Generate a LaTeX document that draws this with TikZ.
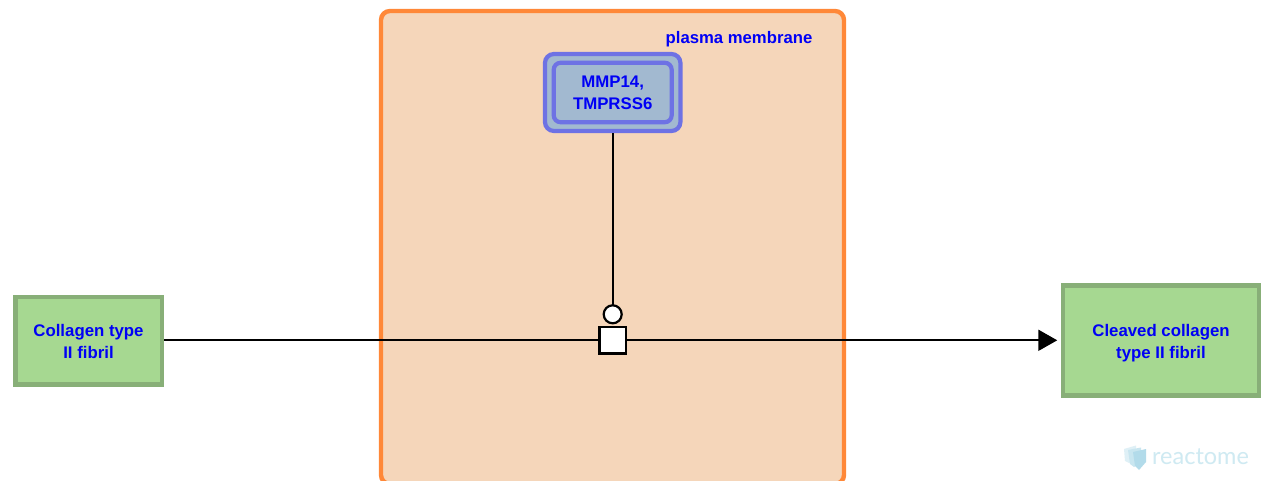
\documentclass[tikz,border=0pt]{standalone}
\usepackage{fontspec}
\setmainfont{Liberation Sans}
\newfontfamily\logofont{Lato}
\usetikzlibrary{arrows.meta}
\definecolor{memfill}{HTML}{F5D6BA}
\definecolor{memline}{HTML}{FF8838}
\definecolor{cxfill}{HTML}{A2B9D0}
\definecolor{cxline}{HTML}{6E72E4}
\definecolor{enfill}{HTML}{A6D891}
\definecolor{enline}{HTML}{88AF78}
\definecolor{txt}{HTML}{0000F5}
\definecolor{logotxt}{HTML}{CFEAF2}
\definecolor{logomark}{HTML}{A5D5E6}
\tikzset{
  x=1pt,y=-1pt,
  label text/.style={text=txt,font=\fontsize{16.8}{22}\selectfont\bfseries,align=center,inner sep=0pt},
  entity/.style={draw=enline,fill=enfill,line width=4.5pt,label text},
  edgeline/.style={draw=black,line width=2pt},
  glyph/.style={draw=black,fill=white,line width=2.2pt,inner sep=0pt,outer sep=0pt},
}
\begin{document}
\begin{tikzpicture}
\useasboundingbox (0,0) rectangle (1261,481);
\fill[white] (0,0) rectangle (1261,481);
% compartment
\begin{scope}
\clip (0,0) rectangle (1261,481);
\node[draw=memline,fill=memfill,line width=4.4pt,rounded corners=9pt,minimum width=463pt,minimum height=473pt,inner sep=0pt] (membrane) at (612.5,247.5) {};
\end{scope}
\node[text=txt,font=\fontsize{16.7}{20}\selectfont\bfseries,inner sep=0pt] (memlabel) at (739,39) {plasma membrane};
% complex
\node[draw=cxline,fill=cxfill,line width=4.2pt,rounded corners=9pt,minimum width=135.5pt,minimum height=77pt,inner sep=0pt] (cxouter) at (612.7,92.5) {};
\node[draw=cxline,fill=cxfill,line width=4.2pt,rounded corners=7pt,minimum width=118pt,minimum height=59.5pt,label text] (complex) at (612.7,92.5) {MMP14,\\TMPRSS6};
% entities
\node[entity,minimum width=146.5pt,minimum height=87.5pt] (input) at (88.5,340.8) {\rule{0pt}{13.5pt}Collagen type\\II fibril};
\node[entity,minimum width=196pt,minimum height=110pt] (output) at (1161,340.3) {\rule{0pt}{17.5pt}Cleaved collagen\\type II fibril};
% process glyphs
\node[glyph,minimum size=26.5pt] (process) at (612.7,340.3) {};
\node[glyph,circle,minimum size=18pt] (catalyst) at (612.7,314.3) {};
% connectors
\draw[edgeline] (input.east |- process.west) -- (process.west);
\draw[edgeline,shorten >=3.5pt,-{Triangle[length=19pt,width=21pt]}] (process.east) -- (output.west);
\draw[edgeline] (cxouter.south) -- (catalyst.north);
% logo
\fill[logomark!35] (1124,449) -- (1136,445.5) -- (1136,460) -- (1129,463) -- (1125,461) -- cycle;
\fill[logomark!60] (1128,450) -- (1141,447.5) -- (1141,463) -- (1134,467) -- (1130,464) -- cycle;
\fill[logomark!85] (1133,452) -- (1146,449) -- (1146,462) -- (1139,470) -- (1135,466) -- cycle;
\node[text=logotxt,font=\logofont\fontsize{23.5}{26}\selectfont,inner sep=0pt] (logo) at (1200.5,457) {reactome};
\end{tikzpicture}
\end{document}
